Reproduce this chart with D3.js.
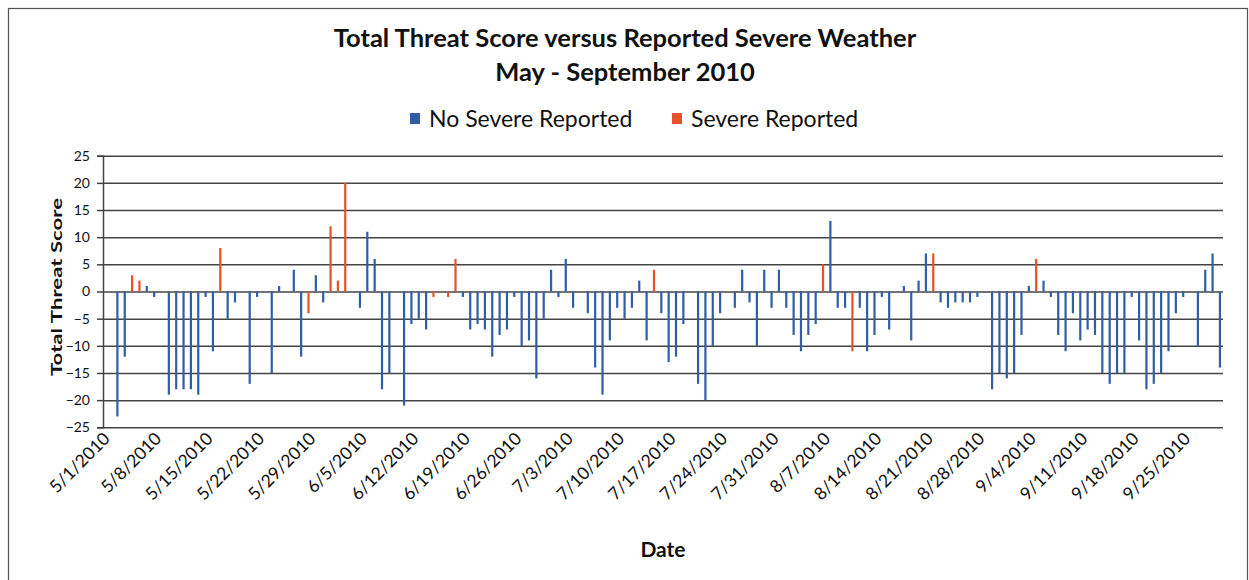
<!DOCTYPE html>
<html>
<head>
<meta charset="utf-8">
<script src="https://cdn.jsdelivr.net/npm/d3@7"></script>
<style>
  body { margin: 0; background: #fff; }
  text { font-family: Lato, "Open Sans", sans-serif; fill: #111; }
</style>
</head>
<body>
<div id="chart"></div>
<script>
// dates with a score, the score, and whether severe weather was reported
var dates = ["5/2/2010","5/3/2010","5/4/2010","5/5/2010","5/6/2010","5/7/2010","5/9/2010","5/10/2010","5/11/2010","5/12/2010",
  "5/13/2010","5/14/2010","5/15/2010","5/16/2010","5/17/2010","5/18/2010","5/20/2010","5/21/2010","5/23/2010","5/24/2010",
  "5/26/2010","5/27/2010","5/28/2010","5/29/2010","5/30/2010","5/31/2010","6/1/2010","6/2/2010","6/4/2010","6/5/2010",
  "6/6/2010","6/7/2010","6/8/2010","6/10/2010","6/11/2010","6/12/2010","6/13/2010","6/14/2010","6/16/2010","6/17/2010",
  "6/18/2010","6/19/2010","6/20/2010","6/21/2010","6/22/2010","6/23/2010","6/24/2010","6/25/2010","6/26/2010","6/27/2010",
  "6/28/2010","6/29/2010","6/30/2010","7/1/2010","7/2/2010","7/3/2010","7/5/2010","7/6/2010","7/7/2010","7/8/2010",
  "7/9/2010","7/10/2010","7/11/2010","7/12/2010","7/13/2010","7/14/2010","7/15/2010","7/16/2010","7/17/2010","7/18/2010",
  "7/20/2010","7/21/2010","7/22/2010","7/23/2010","7/25/2010","7/26/2010","7/27/2010","7/28/2010","7/29/2010","7/30/2010",
  "7/31/2010","8/1/2010","8/2/2010","8/3/2010","8/4/2010","8/5/2010","8/6/2010","8/7/2010","8/8/2010","8/9/2010",
  "8/10/2010","8/11/2010","8/12/2010","8/13/2010","8/14/2010","8/15/2010","8/17/2010","8/18/2010","8/19/2010","8/20/2010",
  "8/21/2010","8/22/2010","8/23/2010","8/24/2010","8/25/2010","8/26/2010","8/27/2010","8/29/2010","8/30/2010","8/31/2010",
  "9/1/2010","9/2/2010","9/3/2010","9/4/2010","9/5/2010","9/6/2010","9/7/2010","9/8/2010","9/9/2010","9/10/2010",
  "9/11/2010","9/12/2010","9/13/2010","9/14/2010","9/15/2010","9/16/2010","9/17/2010","9/18/2010","9/19/2010","9/20/2010",
  "9/21/2010","9/22/2010","9/23/2010","9/24/2010","9/26/2010","9/27/2010","9/28/2010","9/29/2010"];

var scores = [-23,-12,3,2,1,-1,-19,-18,-18,-18,
  -19,-1,-11,8,-5,-2,-17,-1,-15,1,
  4,-12,-4,3,-2,12,2,20,-3,11,
  6,-18,-15,-21,-6,-5,-7,-1,-1,6,
  -1,-7,-6,-7,-12,-8,-7,-1,-10,-9,
  -16,-5,4,-1,6,-3,-4,-14,-19,-9,
  -3,-5,-3,2,-9,4,-4,-13,-12,-6,
  -17,-20,-10,-4,-3,4,-2,-10,4,-3,
  4,-3,-8,-11,-8,-6,5,13,-3,-3,
  -11,-3,-11,-8,-1,-7,1,-9,2,7,
  7,-2,-3,-2,-2,-2,-1,-18,-15,-16,
  -15,-8,1,6,2,-1,-8,-11,-4,-9,
  -7,-8,-15,-17,-15,-15,-1,-9,-18,-17,
  -15,-11,-4,-1,-10,4,7,-14];

var severe = ["5/4/2010","5/5/2010","5/16/2010","5/28/2010","5/31/2010","6/1/2010","6/2/2010",
  "6/14/2010","6/16/2010","6/17/2010","7/14/2010","8/6/2010","8/10/2010","8/21/2010","9/4/2010"];

var tickLabels = ["5/1/2010","5/8/2010","5/15/2010","5/22/2010","5/29/2010","6/5/2010","6/12/2010",
  "6/19/2010","6/26/2010","7/3/2010","7/10/2010","7/17/2010","7/24/2010","7/31/2010","8/7/2010",
  "8/14/2010","8/21/2010","8/28/2010","9/4/2010","9/11/2010","9/18/2010","9/25/2010"];

var seriesNames = ["No Severe Reported", "Severe Reported"];
var colors = ["#2f5ea6", "#e4532b"];

var width = 1249, height = 580;
var plotLeft = 103, plotRight = 1223, plotTop = 155.7, plotBottom = 427.3;

var parse = d3.timeParse("%m/%d/%Y");
var fmt = d3.timeFormat("%-m/%-d/%Y");

var data = dates.map(function (d, i) {
  return { date: parse(d), score: scores[i], severe: severe.indexOf(d) >= 0 ? 1 : 0 };
});

var svg = d3.select("#chart").append("svg")
  .attr("width", width)
  .attr("height", height);

// outer border
svg.append("rect")
  .attr("x", 8.5).attr("y", 8.5)
  .attr("width", 1239).attr("height", 580)
  .attr("fill", "none")
  .attr("stroke", "#555")
  .attr("stroke-width", 1.2);

// excel's date axis leaves a little room either side
var x = d3.scaleTime()
  .domain([d3.timeHour.offset(parse("5/1/2010"), -23), d3.timeHour.offset(parse("9/29/2010"), 10)])
  .range([plotLeft, plotRight]);

var y = d3.scaleLinear().domain([-25, 25]).range([plotBottom, plotTop]);

// gridlines
svg.append("g")
  .attr("transform", "translate(" + plotLeft + ",0)")
  .call(d3.axisLeft(y).tickValues(d3.range(-25, 26, 5)).tickSize(-(plotRight - plotLeft)).tickFormat(""))
  .call(function (g) {
    g.select(".domain").remove();
    g.selectAll("line").attr("stroke", "#444").attr("stroke-width", 1.5);
  });

// bars
svg.append("g").selectAll("rect")
  .data(data)
  .enter().append("rect")
  .attr("x", function (d) { return x(d.date) - 1.1; })
  .attr("width", 2.2)
  .attr("y", function (d) { return y(Math.max(0, d.score)); })
  .attr("height", function (d) { return Math.abs(y(d.score) - y(0)); })
  .attr("fill", function (d) { return colors[d.severe]; });

// y axis
svg.append("g")
  .attr("transform", "translate(" + plotLeft + ",0)")
  .call(d3.axisLeft(y).tickValues(d3.range(-25, 26, 5)).tickSize(6).tickPadding(7))
  .call(function (g) {
    g.select(".domain").attr("stroke", "#444").attr("stroke-width", 1.5);
    g.selectAll("line").attr("stroke", "#444").attr("stroke-width", 1.5);
    g.selectAll("text").style("font-family", "Lato, sans-serif").style("font-size", "14px").attr("fill", "#222");
  });

// x labels
svg.append("g")
  .attr("transform", "translate(0," + (plotBottom + 6) + ")")
  .call(d3.axisBottom(x).tickValues(tickLabels.map(parse)).tickSize(0).tickFormat(fmt))
  .call(function (g) {
    g.select(".domain").remove();
    g.selectAll("text")
      .style("font-family", "Lato, sans-serif")
      .style("font-size", "17.5px")
      .attr("fill", "#111")
      .attr("text-anchor", "end")
      .attr("dy", "0.35em")
      .attr("transform", "translate(-6,0) rotate(-45)");
  });

// title
svg.append("text")
  .attr("x", 625).attr("y", 47)
  .attr("text-anchor", "middle")
  .style("font-size", "25.5px").style("font-weight", "bold")
  .text("Total Threat Score versus Reported Severe Weather");
svg.append("text")
  .attr("x", 625).attr("y", 81)
  .attr("text-anchor", "middle")
  .style("font-size", "25.5px").style("font-weight", "bold")
  .text("May - September 2010");

// legend
var legendX = [410, 672];
var legend = svg.append("g").selectAll("g")
  .data(seriesNames)
  .enter().append("g")
  .attr("transform", function (d, i) { return "translate(" + legendX[i] + ",113)"; });
legend.append("rect")
  .attr("width", 10).attr("height", 11)
  .attr("fill", function (d, i) { return colors[i]; });
legend.append("text")
  .attr("x", 19).attr("y", 14)
  .style("font-size", "23px")
  .text(function (d) { return d; });

// axis titles
svg.append("text")
  .attr("x", (plotLeft + plotRight) / 2).attr("y", 557)
  .attr("text-anchor", "middle")
  .style("font-size", "21px").style("font-weight", "bold")
  .text("Date");

svg.append("text")
  .attr("transform", "translate(62,287) rotate(-90)")
  .attr("text-anchor", "middle")
  .attr("textLength", 178)
  .attr("lengthAdjust", "spacingAndGlyphs")
  .style("font-size", "16px").style("font-weight", "bold")
  .text("Total Threat Score");
</script>
</body>
</html>
